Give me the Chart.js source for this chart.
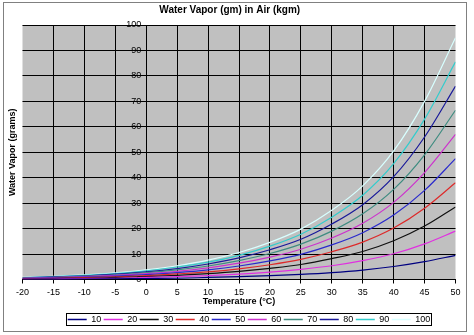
<!DOCTYPE html>
<html>
<head>
<meta charset="utf-8">
<script src="https://cdn.jsdelivr.net/npm/chart.js@4/dist/chart.umd.min.js"></script>
<style>
html,body{margin:0;padding:0;background:#fff;}
#wrap{width:474px;height:335px;position:relative;}
</style>
</head>
<body>
<div id="wrap"><canvas id="c" width="474" height="335"></canvas></div>
<script>
const temps = [-20, -15, -10, -5, 0, 5, 10, 15, 20, 25, 30, 35, 40, 45, 50];
const seriesLabels = ['10', '20', '30', '40', '50', '60', '70', '80', '90', '100'];
const rh10  = [0.1, 0.1, 0.2, 0.3, 0.4, 0.5, 0.8, 1.1, 1.5, 2.0, 2.7, 3.7, 5.1, 7.0, 9.5];
const rh20  = [0.2, 0.2, 0.4, 0.5, 0.8, 1.1, 1.5, 2.1, 2.9, 4.0, 5.4, 7.4, 10.1, 14.0, 19.0];
const rh30  = [0.2, 0.4, 0.5, 0.8, 1.1, 1.6, 2.3, 3.2, 4.4, 5.9, 8.2, 11.0, 15.2, 21.0, 28.5];
const rh40  = [0.3, 0.5, 0.7, 1.0, 1.5, 2.2, 3.0, 4.2, 5.8, 7.9, 10.9, 14.7, 20.2, 28.0, 38.0];
const rh50  = [0.4, 0.6, 0.9, 1.3, 1.9, 2.7, 3.8, 5.3, 7.3, 9.9, 13.6, 18.4, 25.3, 35.0, 47.5];
const rh60  = [0.5, 0.7, 1.1, 1.6, 2.3, 3.2, 4.6, 6.4, 8.8, 11.9, 16.3, 22.1, 30.3, 42.0, 57.0];
const rh70  = [0.6, 0.8, 1.3, 1.8, 2.7, 3.8, 5.3, 7.4, 10.2, 13.9, 19.0, 25.8, 35.4, 49.0, 66.5];
const rh80  = [0.6, 1.0, 1.4, 2.1, 3.0, 4.3, 6.1, 8.5, 11.7, 15.8, 21.8, 29.4, 40.4, 56.0, 76.0];
const rh90  = [0.7, 1.1, 1.6, 2.3, 3.4, 4.9, 6.8, 9.5, 13.1, 17.8, 24.5, 33.1, 45.5, 63.0, 85.5];
const rh100 = [0.8, 1.2, 1.8, 2.6, 3.8, 5.4, 7.6, 10.6, 14.6, 19.8, 27.2, 36.8, 50.5, 70.0, 95.0];
const allSeries = [rh10, rh20, rh30, rh40, rh50, rh60, rh70, rh80, rh90, rh100];
const colors = ['#000080', '#e030e0', '#101010', '#dd2a2a', '#2a2acc', '#cc33cc', '#3f8c80', '#1a1a9a', '#33cccc', '#d8ffff'];

const FONT = "Arial, 'Liberation Sans', sans-serif";

const datasets = allSeries.map((vals, i) => ({
  label: seriesLabels[i],
  data: vals.map((v, j) => ({x: temps[j], y: v})),
  borderColor: colors[i],
  backgroundColor: colors[i],
  pointBorderColor: colors[i],
  pointBackgroundColor: colors[i],
  pointBorderWidth: 1.2,
  borderWidth: 1.2,
  pointRadius: 0,
  cubicInterpolationMode: 'monotone',
  fill: false
}));

const LEGEND_SHIFT = 10;

const framePlugin = {
  id: 'frame',
  afterLayout(chart) {
    const lg = chart.legend;
    if (!lg) return;
    lg.left += LEGEND_SHIFT;
    lg.right += LEGEND_SHIFT;
    if (lg.legendHitBoxes) lg.legendHitBoxes.forEach(h => { h.left += LEGEND_SHIFT; });
  },
  beforeDraw(chart) {
    const ctx = chart.ctx, a = chart.chartArea;
    ctx.save();
    ctx.fillStyle = '#ffffff';
    ctx.fillRect(0, 0, chart.width, chart.height);
    ctx.strokeStyle = '#808080';
    ctx.lineWidth = 1;
    ctx.strokeRect(3.5, 2.5, 463, 329);
    ctx.fillStyle = '#c0c0c0';
    ctx.fillRect(a.left, a.top, a.right - a.left, a.bottom - a.top);
    ctx.restore();
  },
  afterDraw(chart) {
    const lg = chart.legend;
    if (!lg || !lg.legendHitBoxes || !lg.legendHitBoxes.length) return;
    const hb = lg.legendHitBoxes;
    let l = Infinity, r = -Infinity, t = Infinity, b = -Infinity;
    hb.forEach(h => { l = Math.min(l, h.left); r = Math.max(r, h.left + h.width); t = Math.min(t, h.top); b = Math.max(b, h.top + h.height); });
    const ctx = chart.ctx;
    ctx.save();
    ctx.strokeStyle = '#000';
    ctx.lineWidth = 1;
    const x0 = Math.round(l - 2) + 0.5, y0 = Math.round(t - 2) + 0.5;
    ctx.strokeRect(x0, y0, Math.round(r + 1) - Math.round(l - 2), Math.round(b + 1) - Math.round(t - 2));
    ctx.restore();
  }
};

new Chart(document.getElementById('c'), {
  type: 'line',
  data: { datasets },
  plugins: [framePlugin],
  options: {
    responsive: false,
    animation: false,
    events: [],
    layout: { padding: { left: 4, right: 18.5, top: 0, bottom: 1 } },
    plugins: {
      title: {
        display: true,
        text: 'Water Vapor (gm) in Air (kgm)',
        color: '#000',
        font: { family: FONT, size: 10, weight: 'bold' },
        padding: { top: 4, bottom: 9 }
      },
      legend: {
        display: true,
        position: 'bottom',
        fullSize: false,
        labels: {
          usePointStyle: true,
          pointStyle: 'line',
          pointStyleWidth: 19,
          padding: 2.5,
          color: '#000',
          font: { family: FONT, size: 9 },
          generateLabels: (chart) => chart.data.datasets.map((ds, i) => ({
            text: ds.label,
            strokeStyle: ds.borderColor,
            fillStyle: ds.borderColor,
            lineWidth: 1.5,
            pointStyle: 'line',
            hidden: false,
            datasetIndex: i,
            fontColor: '#000'
          }))
        }
      },
      tooltip: { enabled: false }
    },
    scales: {
      x: {
        type: 'linear',
        position: 'bottom',
        min: -20,
        max: 50,
        afterFit(s) { s.height = 33; },
        ticks: { stepSize: 5, color: '#000', padding: 4, font: { family: FONT, size: 9 } },
        grid: {
          color: (c) => (c.tick && (c.tick.value === -20 || c.tick.value === 50)) ? 'rgba(0,0,0,0)' : '#000',
          tickColor: '#000',
          tickLength: 4,
          lineWidth: 1
        },
        border: { display: true, color: '#000' },
        title: {
          display: true,
          text: 'Temperature (°C)',
          color: '#000',
          font: { family: FONT, size: 9, weight: 'bold' },
          padding: { top: 1, bottom: 5.6 }
        }
      },
      y: {
        type: 'linear',
        position: { x: 0 },
        min: 0,
        max: 100,
        ticks: {
          stepSize: 10, color: '#000', padding: 2, font: { family: FONT, size: 9 },
          callback: (v) => v + '  '
        },
        grid: { color: '#000', tickColor: '#000', tickLength: 4, lineWidth: 1 },
        border: { display: true, color: '#000' }
      },
      y2: {
        type: 'linear',
        position: 'left',
        min: 0,
        max: 100,
        afterFit(s) { s.width = 18.5; },
        ticks: { display: false },
        grid: { display: false },
        border: { display: false },
        title: {
          display: true,
          text: 'Water Vapor (grams)',
          color: '#000',
          font: { family: FONT, size: 9, weight: 'bold' },
          padding: { top: 3.6, bottom: 0 }
        }
      }
    }
  }
});
</script>
</body>
</html>
